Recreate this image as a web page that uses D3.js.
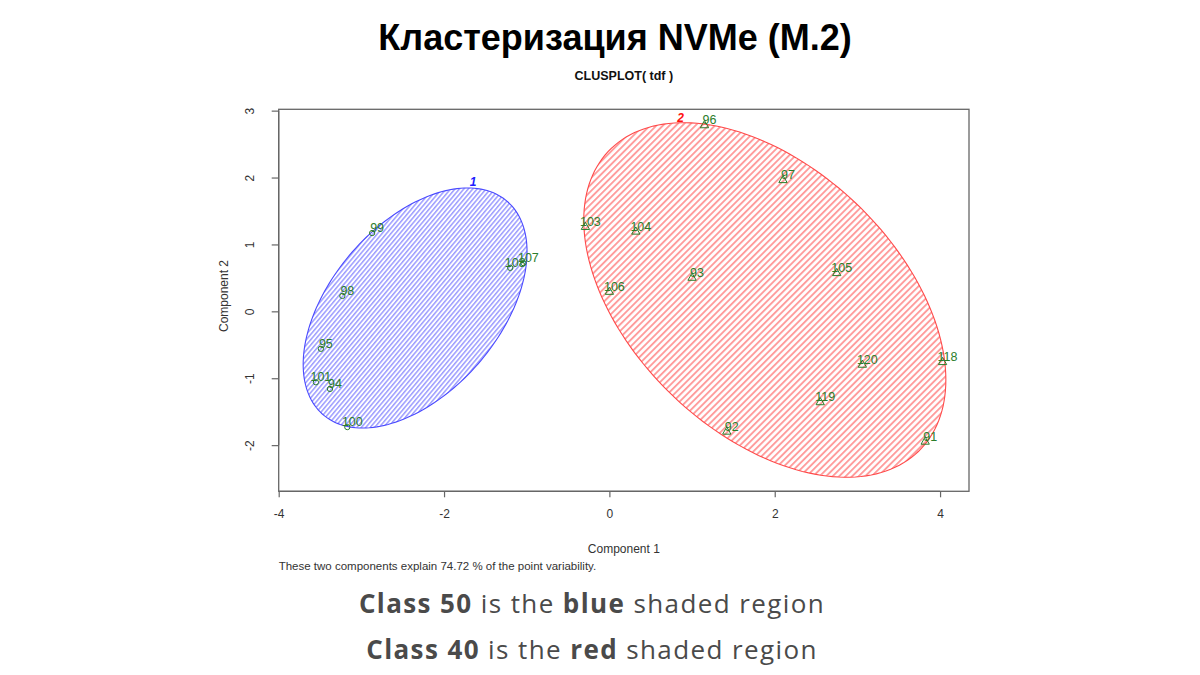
<!DOCTYPE html>
<html>
<head>
<meta charset="utf-8">
<script src="https://cdn.jsdelivr.net/npm/d3@7"></script>
<style>
  body { margin: 0; background: #fff; }
  svg { display: block; }
</style>
</head>
<body>
<svg id="chart" width="1200" height="675"></svg>
<script>

// point labels, coordinates (component 1 / component 2) and cluster id
var pointLabels = ['99', '108', '107', '98', '95', '101', '94', '100',
                   '96', '97', '103', '104', '93', '105', '106', '120', '118', '119', '92', '91'];
var comp1 = [-2.87, -1.20, -1.04, -3.23, -3.49, -3.55, -3.38, -3.17,
             1.15, 2.10, -0.29, 0.32, 1.00, 2.75, 0.00, 3.06, 4.03, 2.55, 1.42, 3.82];
var comp2 = [1.17, 0.65, 0.72, 0.23, -0.56, -1.06, -1.16, -1.73,
             2.78, 1.96, 1.26, 1.19, 0.50, 0.57, 0.29, -0.80, -0.76, -1.36, -1.80, -1.95];
var cluster = [1, 1, 1, 1, 1, 1, 1, 1,
               2, 2, 2, 2, 2, 2, 2, 2, 2, 2, 2, 2];

// cluster ellipses: centre, half extents and phase
var clusterNames = ['1', '2'];
var ellCx = [-2.35, 1.88];
var ellCy = [0.05, 0.17];
var ellHx = [1.354, 2.19];
var ellHy = [1.794, 2.65];
var ellCos = [0.47, -0.45];
var clusterLabelX = [-1.65, 0.86];
var clusterLabelY = [1.95, 2.90];

var xTicks = [-4, -2, 0, 2, 4];
var yTicks = [-2, -1, 0, 1, 2, 3];
var xlim = [-4, 4.35];
var ylim = [-2.69, 3.02];

var svg = d3.select('#chart');

var box = {left: 278.7, right: 969, top: 109.3, bottom: 491.3};

var x = d3.scaleLinear().domain(xlim).range([box.left, box.right]);
var y = d3.scaleLinear().domain(ylim).range([box.bottom, box.top]);

var lineColors = ['#9c9cff', '#ff9c9c'];
var edgeColors = ['#4a4aff', '#ff4a4a'];
var hatchAngle = [40, 45];
var hatchGap = [3.4, 4.6];
var hatchWidth = [1.5, 1.9];

// hatch patterns
var defs = svg.append('defs');
clusterNames.forEach(function(c, i){
  var p = defs.append('pattern')
    .attr('id', 'hatch' + i)
    .attr('patternUnits', 'userSpaceOnUse')
    .attr('width', hatchGap[i])
    .attr('height', 10)
    .attr('patternTransform', 'rotate(' + hatchAngle[i] + ')');
  p.append('rect')
    .attr('x', 0).attr('y', 0)
    .attr('width', hatchWidth[i]).attr('height', 10)
    .attr('fill', lineColors[i]);
});

// title
svg.append('text')
  .attr('x', 615).attr('y', 50)
  .attr('text-anchor', 'middle')
  .style('font', 'bold 36px "Liberation Sans", Arial, sans-serif')
  .attr('fill', '#000')
  .text('Кластеризация NVMe (M.2)');

svg.append('text')
  .attr('x', (box.left + box.right) / 2).attr('y', 80)
  .attr('text-anchor', 'middle')
  .style('font', 'bold 12.5px "Liberation Sans", Arial, sans-serif')
  .attr('fill', '#111')
  .text('CLUSPLOT( tdf )');

// ellipses
var ellLine = d3.line()
  .x(function(d){ return x(d[0]); })
  .y(function(d){ return y(d[1]); })
  .curve(d3.curveLinearClosed);

clusterNames.forEach(function(c, i){
  var d = Math.acos(ellCos[i]);
  var pts = d3.range(0, 360, 2).map(function(a){
    var t = a * Math.PI / 180;
    return [ellCx[i] + ellHx[i] * Math.cos(t), ellCy[i] + ellHy[i] * Math.cos(t - d)];
  });
  svg.append('path')
    .datum(pts)
    .attr('d', ellLine)
    .attr('fill', 'url(#hatch' + i + ')')
    .attr('stroke', edgeColors[i])
    .attr('stroke-width', 1.1);

  svg.append('text')
    .attr('x', x(clusterLabelX[i])).attr('y', y(clusterLabelY[i]) + 5)
    .attr('text-anchor', 'middle')
    .style('font', 'italic bold 12px "Liberation Sans", Arial, sans-serif')
    .attr('fill', i == 0 ? '#2020ff' : '#ff1010')
    .text(c);
});

// points
var pts = pointLabels.map(function(l, i){
  return {label: l, c1: comp1[i], c2: comp2[i], cl: cluster[i]};
});

var ptColor = '#2b7d2b';

svg.selectAll('.pt')
  .data(pts)
  .enter()
  .append('path')
  .attr('class', 'pt')
  .attr('transform', function(d){ return 'translate(' + x(d.c1) + ',' + y(d.c2) + ')'; })
  .attr('d', function(d){
    return d3.symbol().type(d.cl == 1 ? d3.symbolCircle : d3.symbolTriangle).size(d.cl == 1 ? 22 : 30)();
  })
  .attr('fill', 'none')
  .attr('stroke', ptColor)
  .attr('stroke-width', 1);

svg.selectAll('.lbl')
  .data(pts)
  .enter()
  .append('text')
  .attr('class', 'lbl')
  .attr('x', function(d){ return x(d.c1) + 5; })
  .attr('y', function(d){ return y(d.c2) - 1; })
  .attr('text-anchor', 'middle')
  .style('font', '12.5px "Liberation Sans", Arial, sans-serif')
  .attr('fill', ptColor)
  .text(function(d){ return d.label; });

// box
svg.append('rect')
  .attr('x', box.left).attr('y', box.top)
  .attr('width', box.right - box.left).attr('height', box.bottom - box.top)
  .attr('fill', 'none')
  .attr('stroke', '#666')
  .attr('stroke-width', 1.3);

// axes
var axisFont = '12px "Liberation Sans", Arial, sans-serif';
var fmt = function(d){ return String(d); };

var xAxis = svg.append('g')
  .attr('transform', 'translate(0,' + box.bottom + ')')
  .call(d3.axisBottom(x).tickValues(xTicks).tickFormat(fmt).tickSize(6).tickPadding(12).tickSizeOuter(0));
xAxis.select('.domain').attr('d', 'M' + x(-4) + ',0H' + x(4));

var yAxis = svg.append('g')
  .attr('transform', 'translate(' + box.left + ',0)')
  .call(d3.axisLeft(y).tickValues(yTicks).tickFormat(fmt).tickSize(7).tickSizeOuter(0));
yAxis.select('.domain').attr('d', 'M0,' + y(-2) + 'V' + y(3));
yAxis.selectAll('.tick text')
  .attr('x', 0).attr('dy', null)
  .attr('text-anchor', 'middle')
  .attr('transform', 'translate(-25,0) rotate(-90)')
  .attr('y', 0);

[xAxis, yAxis].forEach(function(a){
  a.selectAll('.domain').attr('stroke', '#666').attr('stroke-width', 1.2);
  a.selectAll('.tick line').attr('stroke', '#666').attr('stroke-width', 1.2);
  a.selectAll('.tick text').style('font', axisFont).attr('fill', '#333');
});

svg.append('text')
  .attr('x', (box.left + box.right) / 2).attr('y', 553)
  .attr('text-anchor', 'middle')
  .style('font', axisFont).attr('fill', '#333')
  .text('Component 1');

svg.append('text')
  .attr('transform', 'translate(228,296) rotate(-90)')
  .attr('text-anchor', 'middle')
  .style('font', axisFont).attr('fill', '#333')
  .text('Component 2');

svg.append('text')
  .attr('x', box.left).attr('y', 570)
  .style('font', '11.5px "Liberation Sans", Arial, sans-serif').attr('fill', '#333')
  .text('These two components explain 74.72 % of the point variability.');

// captions
var captions = [
  [['Class 50', true], [' is the ', false], ['blue', true], [' shaded region', false]],
  [['Class 40', true], [' is the ', false], ['red', true], [' shaded region', false]]
];
captions.forEach(function(parts, i){
  var t = svg.append('text')
    .attr('x', 592).attr('y', 613 + i * 46)
    .attr('text-anchor', 'middle')
    .style('font', '26px "Open Sans", Lato, sans-serif')
    .style('letter-spacing', '1.4px')
    .attr('fill', '#4a4a4a');
  parts.forEach(function(p){
    t.append('tspan')
      .attr('font-weight', p[1] ? 'bold' : 'normal')
      .text(p[0]);
  });
});
</script>
</body>
</html>
